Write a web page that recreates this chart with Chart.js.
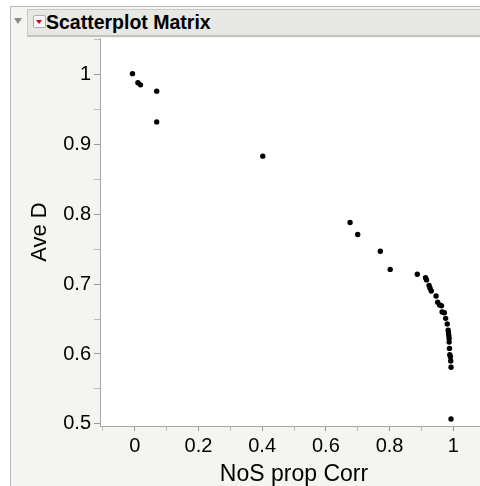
<!DOCTYPE html>
<html>
<head>
<meta charset="utf-8">
<script src="https://cdn.jsdelivr.net/npm/chart.js@4/dist/chart.umd.min.js"></script>
<style>
  body { margin: 0; background: #fff; font-family: "Liberation Sans", Arial, sans-serif; }
  #page { position: absolute; left: 0; top: 0; width: 480px; height: 486px; overflow: hidden; }
  #frame { position: absolute; left: 10px; top: 6px; width: 480px; height: 490px;
           border-left: 1px solid #b8b8b6; border-top: 1px solid #b8b8b6; background: #f4f4f1; }
  #header { position: absolute; left: 27px; top: 9px; width: 470px; height: 25px;
            background: #e7e7e3; border-top: 1px solid #c8c8c4; border-bottom: 2px solid #c2c2be;
            border-left: 1px solid #c8c8c4; }
  #tri { position: absolute; left: 14px; top: 18px; width: 0; height: 0;
         border-left: 4px solid transparent; border-right: 4px solid transparent; border-top: 6px solid #8a8a8a; }
  #menu { position: absolute; left: 33px; top: 15px; width: 11px; height: 11px; background: #f6f6f6;
          border: 1px solid #b0b0b0; border-radius: 2px; }
  #menu:after { content: ""; position: absolute; left: 2px; top: 4px; width: 0; height: 0;
                border-left: 3.5px solid transparent; border-right: 3.5px solid transparent; border-top: 4px solid #d0021b; }
  #title { position: absolute; left: 46px; top: 10px; font-weight: bold; font-size: 19.5px; color: #000; line-height: 24px; }
  #chartBox { position: absolute; left: 0; top: 34px; width: 492px; height: 458px; }
</style>
</head>
<body>
<div id="page">
  <div id="frame"></div>
  <div id="header"></div>
  <div id="tri"></div>
  <div id="menu"></div>
  <div id="title">Scatterplot Matrix</div>
  <div id="chartBox"><canvas id="scatter" width="492" height="458"></canvas></div>
</div>
<script>
// NoS prop Corr vs Ave D
const nosPropCorr = [-0.007, 0.010, 0.018, 0.069, 0.069, 0.402, 0.676, 0.700, 0.771, 0.802,
  0.887, 0.913, 0.916, 0.924, 0.927, 0.931, 0.946, 0.951, 0.957, 0.963,
  0.965, 0.972, 0.976, 0.981, 0.984, 0.985, 0.986, 0.987, 0.987, 0.988,
  0.989, 0.991, 0.992, 0.993, 0.993];
const aveD = [1.001, 0.988, 0.985, 0.976, 0.932, 0.883, 0.788, 0.771, 0.747, 0.721,
  0.714, 0.709, 0.706, 0.698, 0.694, 0.690, 0.683, 0.674, 0.670, 0.669,
  0.660, 0.659, 0.651, 0.643, 0.634, 0.630, 0.626, 0.622, 0.617, 0.608,
  0.599, 0.596, 0.590, 0.581, 0.507];

const xRange = [-0.109, 1.109];
const yRange = [0.497, 1.052];

var points = nosPropCorr.map((x, i) => ({ x: x, y: aveD[i] }));

const axisGray = '#a8a8a8';
const fontFamily = '"Liberation Sans", Arial, sans-serif';

const whiteArea = {
  id: 'whiteArea',
  beforeDraw(chart) {
    const a = chart.chartArea;
    const ctx = chart.ctx;
    ctx.save();
    ctx.fillStyle = '#ffffff';
    ctx.fillRect(a.left, a.top, a.right - a.left, a.bottom - a.top);
    ctx.restore();
  }
};

function isMajor(v, step) {
  const r = v / step;
  return Math.abs(r - Math.round(r)) < 1e-6;
}

// keep the plot area flush with the canvas edges
function noEdgePadding(scale) {
  scale.paddingTop = 0;
  scale.paddingBottom = 0;
  scale.paddingLeft = 0;
  scale.paddingRight = 0;
}

var ctx = document.getElementById('scatter').getContext('2d');
var chart = new Chart(ctx, {
  type: 'scatter',
  data: {
    datasets: [{
      data: points,
      backgroundColor: '#000',
      borderColor: '#000',
      pointRadius: 2.7,
      borderWidth: 0
    }]
  },
  plugins: [whiteArea],
  options: {
    responsive: false,
    animation: false,
    events: [],
    layout: { padding: 0 },
    plugins: { legend: { display: false }, tooltip: { enabled: false } },
    scales: {
      x: {
        type: 'linear',
        min: xRange[0],
        max: xRange[1],
        afterFit: (scale) => { scale.height = 66; noEdgePadding(scale); },
        border: { color: axisGray, width: 1 },
        grid: {
          drawOnChartArea: false,
          tickLength: 5,
          tickColor: (c) => isMajor(c.tick.value, 0.2) ? '#999' : '#bbb'
        },
        ticks: {
          stepSize: 0.1,
          includeBounds: false,
          autoSkip: false,
          maxRotation: 0,
          padding: 3,
          color: '#000',
          font: { family: fontFamily, size: 20 },
          callback: (v) => isMajor(v, 0.2) ? String(Math.round(v * 10) / 10) : ''
        },
        title: {
          display: true,
          text: 'NoS prop Corr',
          color: '#000',
          font: { family: fontFamily, size: 23 },
          padding: { top: 0, bottom: 4 }
        }
      },
      y: {
        type: 'linear',
        min: yRange[0],
        max: yRange[1],
        afterFit: (scale) => { scale.width = 100; noEdgePadding(scale); },
        border: { color: axisGray, width: 1 },
        grid: {
          drawOnChartArea: false,
          tickLength: 6,
          tickColor: (c) => isMajor(c.tick.value, 0.1) ? '#999' : '#bbb'
        },
        ticks: {
          stepSize: 0.05,
          includeBounds: false,
          autoSkip: false,
          padding: 3,
          color: '#000',
          font: { family: fontFamily, size: 20 },
          callback: (v) => isMajor(v, 0.1) ? String(Math.round(v * 10) / 10) : ''
        },
        title: {
          display: true,
          text: 'Ave D',
          color: '#000',
          font: { family: fontFamily, size: 22 },
          padding: { top: 27, bottom: 0 }
        }
      }
    }
  }
});
</script>
</body>
</html>
